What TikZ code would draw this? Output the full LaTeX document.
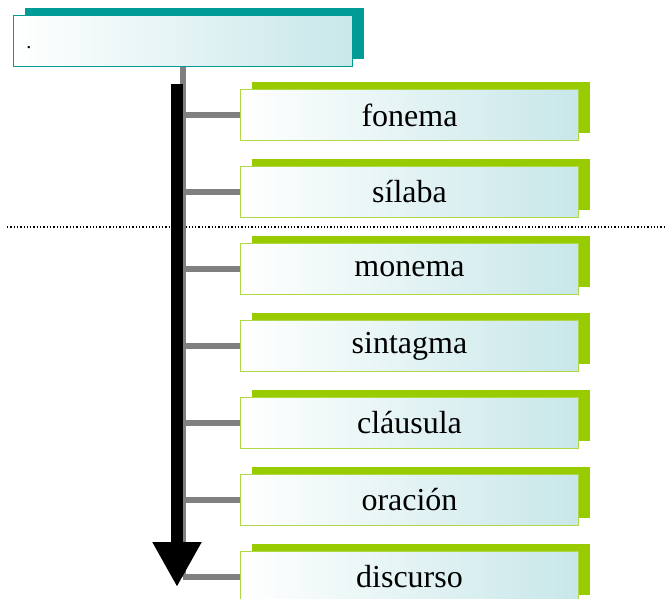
\documentclass[tikz,border=0pt]{standalone}
\usepackage{fontspec}
\setmainfont{Liberation Serif}
\usetikzlibrary{arrows.meta,shadows}
\definecolor{verde}{RGB}{153,204,0}
\definecolor{verdeclaro}{RGB}{175,215,70}
\definecolor{turquesa}{RGB}{0,155,150}
\definecolor{celeste}{RGB}{200,231,233}
\definecolor{gris}{RGB}{128,128,128}
\tikzset{
	caja/.style={draw=verdeclaro, line width=1.2pt, left color=white, right color=celeste,
		minimum width=338pt, minimum height=51pt, inner sep=0pt,
		font=\fontsize{32}{36}\selectfont,
		drop shadow={shadow xshift=11pt, shadow yshift=8pt, fill=verde, opacity=1}},
	titulo/.style={draw=turquesa, line width=1.2pt, left color=white, right color=celeste,
		minimum width=339pt, minimum height=51pt, inner xsep=13pt,
		text width=313pt, align=left,
		font=\fontsize{20}{22}\selectfont,
		drop shadow={shadow xshift=11pt, shadow yshift=8pt, fill=turquesa, opacity=1}},
	rama/.style={gris, line width=5.5pt},
	flecha/.style={line width=12pt, -{Triangle[width=46pt,length=45pt]}}
}
\begin{document}
\begin{tikzpicture}[x=1pt,y=-1pt]
	\useasboundingbox (0,0) rectangle (667,598);
	% linea punteada
	\draw[dotted, line width=1.3pt] (7,227) -- (667,227);
	% caja de arriba
	\node[titulo] (tit) at (183,41) {\raisebox{-7pt}[0pt][0pt]{.}};
	% cajas verdes
	\foreach \n/\t in {1/fonema,2/sílaba,3/monema,4/sintagma,5/cláusula,6/oración,7/discurso}
		\node[caja] (b\n) at (409.5,{115+77*(\n-1)}) {\t};
	% eje gris y ramas
	\draw[rama] (tit.south) -- (tit.south |- b7);
	\foreach \n in {1,...,7}
		\draw[rama] (tit.south |- b\n) -- (b\n.west);
	% flecha negra
		\coordinate (ini) at (177,84);
		\coordinate (fin) at (177,587);
	\draw[flecha] (ini) -- (fin);
\end{tikzpicture}
\end{document}
